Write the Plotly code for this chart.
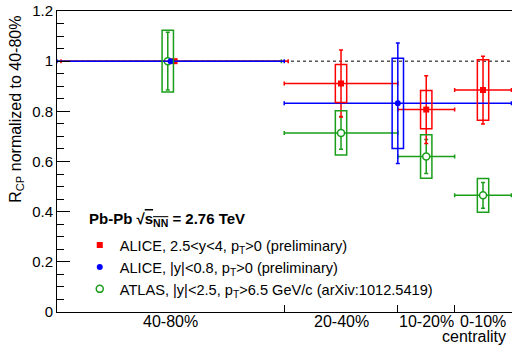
import plotly.graph_objects as go

# ---------------- data ----------------
centrality_labels = ["40-80%", "20-40%", "10-20%", "0-10%"]
label_centers = [60, 30, 15, 5]
bin_edges = [40, 20, 10]

# ALICE forward (2.5<y<4)
red_x = [59.3, 30, 15, 5]
red_xerr = [20, 10, 5, 5]
red_y = [1.0, 0.911, 0.807, 0.885]
red_stat = [0.0, 0.134, 0.135, 0.135]
red_sys = [0.0, 0.076, 0.076, 0.121]

# ALICE mid (|y|<0.8)
blue_x = [60.0, 20]
blue_xerr = [20, 20]
blue_y = [1.0, 0.832]
blue_stat = [0.0, 0.24]
blue_sys = [0.0, 0.18]

# ATLAS
green_x = [60.5, 30, 15, 5]
green_xerr = [20, 10, 5, 5]
green_y = [1.0, 0.714, 0.62, 0.465]
green_stat = [0.115, 0.065, 0.068, 0.051]
green_sys = [0.123, 0.088, 0.087, 0.067]

box_half = 1.0

RED = "#ff0000"
BLUE = "#0000ff"
GREEN = "#1a9e1a"
FONT = "Liberation Sans, Arial, Helvetica, sans-serif"

fig = go.Figure()

def add_series(x, xerr, y, stat, color, symbol, name, rank, fillcol):
    open_marker = fillcol == "white"
    fig.add_trace(go.Scatter(
        x=x, y=y, mode="markers", name=name, legendrank=rank,
        marker=dict(symbol=symbol, size=7 if open_marker else 6,
                    color=fillcol, line=dict(color=color, width=1.5 if open_marker else 0)),
        error_x=dict(type="data", array=xerr, color=color, thickness=1.5, width=2),
        error_y=dict(type="data", array=stat, color=color, thickness=1.5, width=2),
    ))

def add_boxes(x, y, sys, color):
    for xi, yi, si in zip(x, y, sys):
        if si > 0:
            fig.add_shape(type="rect", xref="x", yref="y",
                          x0=xi - box_half, x1=xi + box_half, y0=yi - si, y1=yi + si,
                          line=dict(color=color, width=1.5), fillcolor="rgba(0,0,0,0)",
                          layer="above")

# dotted reference line at 1
fig.add_shape(type="line", xref="paper", yref="y", x0=0, x1=1, y0=1, y1=1,
              line=dict(color="black", width=1, dash="dot"), layer="below")

add_series(green_x, green_xerr, green_y, green_stat, GREEN, "circle",
           "ATLAS, |y|<2.5, p<sub>T</sub>>6.5 GeV/c (arXiv:1012.5419)", 3, "white")
add_series(red_x, red_xerr, red_y, red_stat, RED, "square",
           "ALICE, 2.5<y<4, p<sub>T</sub>>0 (preliminary)", 1, RED)
add_series(blue_x, blue_xerr, blue_y, blue_stat, BLUE, "circle",
           "ALICE, |y|<0.8, p<sub>T</sub>>0 (preliminary)", 2, BLUE)

add_boxes(green_x, green_y, green_sys, GREEN)
add_boxes(red_x, red_y, red_sys, RED)
add_boxes(blue_x, blue_y, blue_sys, BLUE)

annotations = [
    dict(text="R<sub>CP</sub> normalized to 40-80%", xref="paper", yref="paper",
         x=-0.088, y=0.675, xanchor="center", yanchor="middle", textangle=-90,
         showarrow=False, font=dict(size=16)),
    dict(text="centrality", xref="paper", yref="paper",
         x=0.991, y=-0.08, xanchor="right", yanchor="middle",
         showarrow=False, font=dict(size=16)),
    dict(text="<b>Pb-Pb √<span style='text-decoration:overline'>s<sub>NN</sub></span> = 2.76 TeV</b>",
         xref="paper", yref="paper", x=0.066, y=0.307, xanchor="left", yanchor="middle",
         showarrow=False, font=dict(size=15)),
]
for lab, c in zip(centrality_labels, label_centers):
    annotations.append(dict(text=lab, xref="x", yref="paper", x=c, y=-0.032,
                            xanchor="center", yanchor="middle", showarrow=False,
                            font=dict(size=16)))

fig.update_layout(
    width=512, height=350,
    margin=dict(l=57, r=0, t=11, b=38),
    paper_bgcolor="white", plot_bgcolor="white",
    font=dict(family=FONT, size=15, color="black"),
    showlegend=True,
    legend=dict(
        x=0.05, y=0.276, xanchor="left", yanchor="top",
        bgcolor="rgba(0,0,0,0)", borderwidth=0,
        font=dict(size=14.6),
        itemwidth=30,
    ),
    xaxis=dict(
        range=[80, -0.1], showgrid=False, zeroline=False,
        showline=True, linecolor="black", linewidth=1, mirror=True,
        tickmode="array", tickvals=label_centers, ticktext=["", "", "", ""],
        ticks="",
        minor=dict(tickmode="array", tickvals=bin_edges, ticks="inside",
                   ticklen=7, tickcolor="black", tickwidth=1, showgrid=False),
    ),
    yaxis=dict(
        range=[0, 1.2], showgrid=False, zeroline=False,
        showline=True, linecolor="black", linewidth=1, mirror=False,
        tickmode="array", tickvals=[0, 0.2, 0.4, 0.6, 0.8, 1.0, 1.2],
        ticktext=["0", "0.2", "0.4", "0.6", "0.8", "1", "1.2"],
        ticks="inside", ticklen=13, tickcolor="black", tickwidth=1,
        tickfont=dict(size=15),
        minor=dict(dtick=0.05, tick0=0, ticks="inside", ticklen=7,
                   tickcolor="black", tickwidth=1, showgrid=False),
    ),
    annotations=annotations,
)

fig.write_html("out.html")
